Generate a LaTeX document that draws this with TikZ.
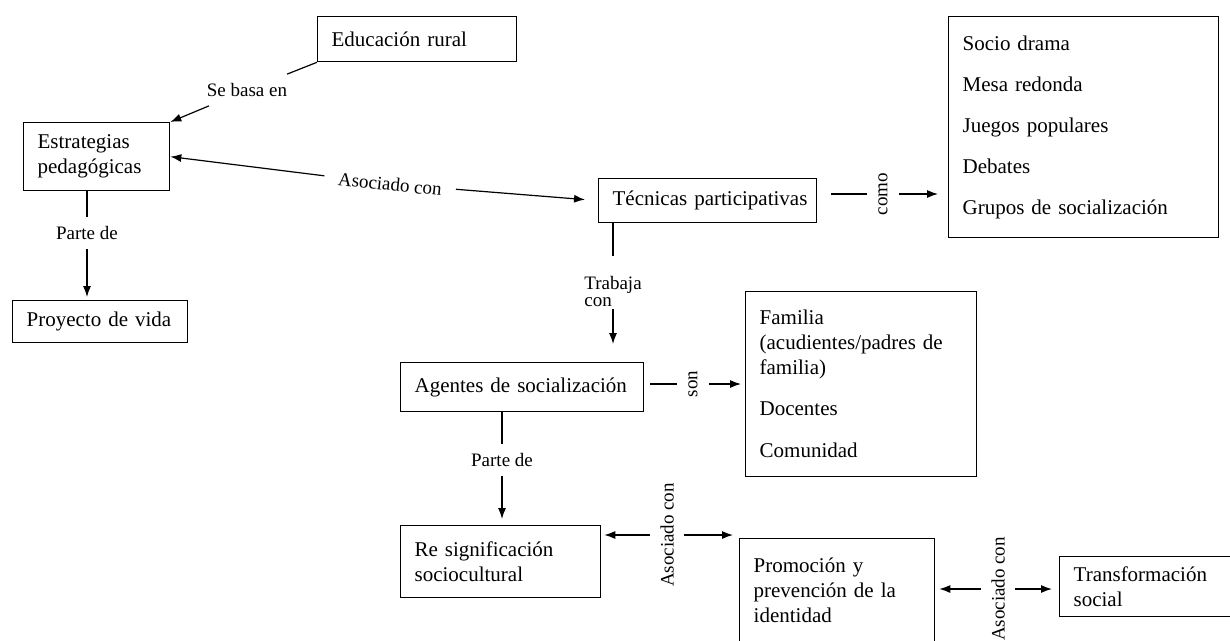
\documentclass[tikz,border=0pt]{standalone}
\usepackage{fontspec}
\setmainfont{Liberation Serif}
\usetikzlibrary{arrows.meta}

\newcommand{\cajafont}{\fontsize{21}{25}\selectfont}
\newcommand{\etiqfont}{\fontsize{19}{22}\selectfont}

\begin{document}
\begin{tikzpicture}[x=1pt,y=-1pt,>={Latex[length=11pt,width=8pt]},
	caja/.style={draw,line width=1.3pt,anchor=north west,align=left,inner xsep=14pt,inner ysep=4pt,font=\cajafont},
	etiq/.style={font=\etiqfont,inner sep=9pt},
	flecha/.style={line width=1.2pt}]
	\useasboundingbox (0,0) rectangle (1230,640);

	% cajas
	\node[caja,text width=171pt,minimum height=45pt] (edu) at (317,16) {Educación rural};
	\node[caja,text width=118pt,minimum height=68pt] (est) at (23,122) {Estrategias\\pedagógicas};
	\node[caja,text width=147pt,minimum height=42pt] (proy) at (12,300) {Proyecto de vida};
	\node[caja,text width=190pt,minimum height=44pt] (tec) at (598,178) {\mbox{Técnicas participativas}};
	\node[caja,text width=242pt,minimum height=221pt] (lista) at (948,16) {Socio drama\\[16pt]Mesa redonda\\[16pt]Juegos populares\\[16pt]Debates\\[16pt]Grupos de socialización};
	\node[caja,text width=215pt,minimum height=49pt] (agen) at (400,362) {Agentes de socialización};
	\node[caja,text width=203pt,minimum height=185pt] (fam) at (745,291) {Familia\\(acudientes/padres de\\familia)\\[16pt]Docentes\\[17pt]Comunidad};
	\node[caja,text width=172pt,minimum height=72pt] (resig) at (400,525) {Re significación\\sociocultural};
	\node[caja,text width=167pt,minimum height=104pt] (prom) at (739,538) {Promoción y\\prevención de la\\identidad};
	\node[caja,text width=147pt,minimum height=60pt] (trans) at (1059,556) {Transformación\\social};

	% etiquetas
	\node[etiq] (basa) at (247,90) {Se basa en};
	\node[etiq,rotate=-6,inner xsep=14pt,inner ysep=4pt] (asoc1) at (390,184) {Asociado con};
	\node[etiq] (parte1) at (87,233) {Parte de};
	\node[etiq,align=left,inner sep=3pt] (trab) at (613,291) {Trabaja\\[-5pt]con};
	\node[etiq,rotate=90,inner xsep=4pt,inner ysep=11pt] (como) at (883,194) {como};
	\node[etiq,rotate=90,inner xsep=4pt,inner ysep=11pt] (son) at (693,384) {son};
	\node[etiq] (parte2) at (502,460) {Parte de};
	\node[etiq,rotate=90,inner xsep=4pt,inner ysep=10pt] (asoc2) at (667,535) {Asociado con};
	\node[etiq,rotate=90,inner xsep=4pt,inner ysep=10pt] (asoc3) at (998,589) {Asociado con};

	% conectores
	\draw[flecha] (edu.south west) -- (basa);
	\draw[flecha,->] (basa) -- (est.north east);
	\draw[flecha,<-] (est.east) -- (asoc1);
	\draw[flecha,->,shorten >=13pt] (asoc1) -- (tec.west);
	\draw[flecha] (est.south -| parte1) -- (parte1);
	\draw[flecha,->,shorten >=3pt] (parte1) -- (parte1 |- proy.north);
	\draw[flecha,shorten >=17pt] (tec.south -| trab) -- (trab);
	\draw[flecha,->,shorten >=18pt] (trab) -- (trab |- agen.north);
	\draw[flecha,shorten <=14pt] (tec.east |- como) -- (como);
	\draw[flecha,->,shorten >=10pt] (como) -- (como -| lista.west);
	\draw[flecha,shorten <=6pt] (agen.east |- son) -- (son);
	\draw[flecha,->,shorten >=4pt] (son) -- (son -| fam.west);
	\draw[flecha] (agen.south -| parte2) -- (parte2);
	\draw[flecha,->,shorten >=6pt] (parte2) -- (parte2 |- resig.north);
	\draw[flecha,<-,shorten <=3pt] (asoc2 -| resig.east) -- (asoc2);
	\draw[flecha,->,shorten >=6pt] (asoc2) -- (asoc2 -| prom.west);
	\draw[flecha,<-,shorten <=4pt] (asoc3 -| prom.east) -- (asoc3);
	\draw[flecha,->,shorten >=7pt] (asoc3) -- (asoc3 -| trans.west);
\end{tikzpicture}
\end{document}
